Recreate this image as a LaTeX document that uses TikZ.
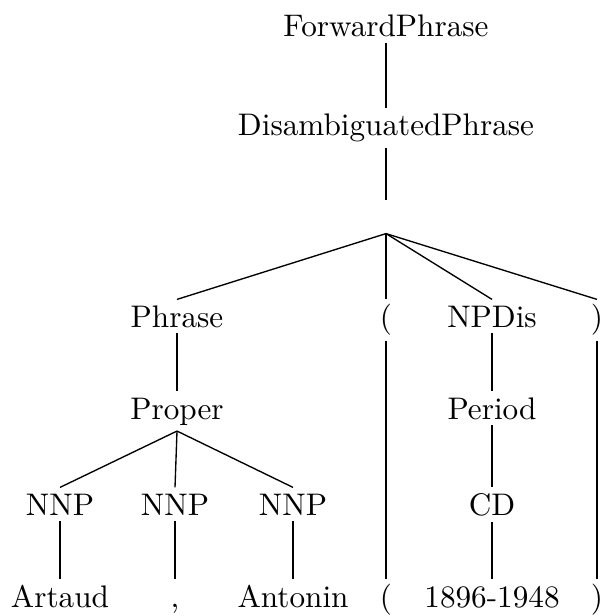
\documentclass[tikz,border=0pt]{standalone}
\begin{document}
\begin{tikzpicture}[x=0.3333pt,y=-0.3333pt,
  lbl/.style={anchor=base, inner sep=1.8pt, text height=7.2pt, font=\fontsize{10.4}{12.5}\selectfont},
  edge/.style={line width=0.45pt}]
\useasboundingbox (0,0) rectangle (601,616);
% nodes
\node[lbl] (fp)  at (386,37)  {ForwardPhrase};
\node[lbl] (dp)  at (386,136) {DisambiguatedPhrase};
\node[inner sep=0pt, minimum width=0pt, minimum height=32*0.3333pt] (e) at (386,217) {};
\node[lbl] (ph)  at (177,327) {Phrase};
\node[lbl] (lp)  at (386,327) {(};
\node[lbl] (np)  at (492,327) {NPDis};
\node[lbl] (rp)  at (597,327) {)};
\node[lbl] (pr)  at (177,419) {Proper};
\node[lbl] (pe)  at (492,419) {Period};
\node[lbl] (n1)  at (60,515)  {NNP};
\node[lbl] (n2)  at (175,515) {NNP};
\node[lbl] (n3)  at (293,515) {NNP};
\node[lbl] (cd)  at (492,515) {CD};
\node[lbl] (w1)  at (60,607)  {Artaud};
\node[lbl] (w2)  at (175,607) {,};
\node[lbl] (w3)  at (293,607) {Antonin};
\node[lbl] (w4)  at (386,607) {(};
\node[lbl] (w5)  at (492,607) {1896-1948};
\node[lbl] (w6)  at (597,607) {)};
% edges
\draw[edge] (fp.south) -- (dp.north);
\draw[edge] (dp.south) -- (e.north);
\draw[edge] (e.south) -- (ph.north);
\draw[edge] (e.south) -- (lp.north);
\draw[edge] (e.south) -- (np.north);
\draw[edge] (e.south) -- (rp.north);
\draw[edge] (ph.south) -- (pr.north);
\draw[edge] (pr.south) -- (n1.north);
\draw[edge] (pr.south) -- (n2.north);
\draw[edge] (pr.south) -- (n3.north);
\draw[edge] (n1.south) -- (w1.north);
\draw[edge] (n2.south) -- (w2.north);
\draw[edge] (n3.south) -- (w3.north);
\draw[edge] (lp.south) -- (w4.north);
\draw[edge] (np.south) -- (pe.north);
\draw[edge] (pe.south) -- (cd.north);
\draw[edge] (cd.south) -- (w5.north);
\draw[edge] (rp.south) -- (w6.north);
\end{tikzpicture}
\end{document}
